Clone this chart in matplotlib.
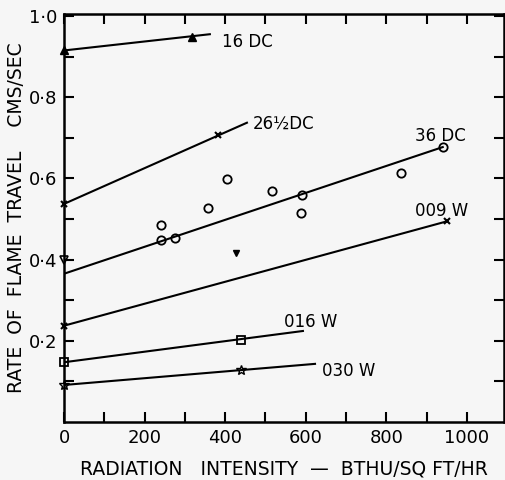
import matplotlib
matplotlib.use("Agg")
import matplotlib.pyplot as plt

# readings
x16 = [0, 318]
y16 = [0.915, 0.948]
line16 = [[0, 362], [0.915, 0.955]]

x26 = [0, 382]
y26 = [0.537, 0.706]
line26 = [[0, 454], [0.537, 0.737]]

x36 = [241, 241, 275, 357, 404, 516, 590, 587, 836, 940]
y36 = [0.486, 0.447, 0.454, 0.526, 0.598, 0.570, 0.560, 0.514, 0.612, 0.677]
line36 = [[0, 940], [0.365, 0.677]]

x_odd = [427]
y_odd = [0.415]
x_odd0 = [0]
y_odd0 = [0.40]

x009 = [0, 950]
y009 = [0.237, 0.494]

x016 = [0, 440]
y016 = [0.147, 0.202]
line016 = [[0, 593], [0.147, 0.224]]

x030 = [0, 440]
y030 = [0.091, 0.128]
line030 = [[0, 623], [0.091, 0.143]]

labels = ["16 DC", "26½DC", "36 DC", "009 W", "016 W", "030 W"]
label_x = [392, 468, 870, 870, 545, 640]
label_y = [0.935, 0.735, 0.705, 0.52, 0.245, 0.125]

xticks = [0, 200, 400, 600, 800, 1000]
yticks = [0.2, 0.4, 0.6, 0.8, 1.0]
ytick_labels = ["0·2", "0·4", "0·6", "0·8", "1·0"]

bg = "#f6f6f6"
fig = plt.figure(figsize=(5.06, 4.8), dpi=100, facecolor=bg)
ax = fig.add_axes([0.1265, 0.121, 0.8695, 0.85], facecolor=bg)

ax.plot(line16[0], line16[1], color="black", lw=1.5)
ax.plot(x16, y16, "^", color="black", ms=6, clip_on=False)
ax.plot(line26[0], line26[1], color="black", lw=1.5)
ax.plot(x26, y26, "x", color="black", ms=4, mew=1.5, clip_on=False)
ax.plot(line36[0], line36[1], color="black", lw=1.5)
ax.plot(x36, y36, "o", mfc="none", mec="black", ms=6, mew=1.3)
ax.plot(x_odd, y_odd, "v", color="black", ms=5)
ax.plot(x_odd0, y_odd0, "v", mfc="none", mec="black", ms=6, mew=1.2, clip_on=False)
ax.plot(x009, y009, color="black", lw=1.5)
ax.plot(x009, y009, "x", color="black", ms=4, mew=1.5, clip_on=False)
ax.plot(line016[0], line016[1], color="black", lw=1.5)
ax.plot(x016, y016, "s", mfc="none", mec="black", ms=6, mew=1.3, clip_on=False)
ax.plot(line030[0], line030[1], color="black", lw=1.5)
ax.plot(x030, y030, "*", mfc="none", mec="black", ms=7, mew=1.0, clip_on=False)

for lab, lx, ly in zip(labels, label_x, label_y):
    ax.text(lx, ly, lab, fontsize=12, va="center", ha="left")

ax.set_xlim(0, 1092)
ax.set_ylim(0, 1.005)
ax.set_xticks(xticks)
ax.set_xticks(range(0, 1001, 100), minor=True)
ax.set_yticks(yticks)
ax.set_yticklabels(ytick_labels)
ax.set_yticks([i / 10 for i in range(1, 11)], minor=True)
ax.tick_params(which="both", direction="in", top=True, right=True,
               width=1.5, labelsize=13, pad=5)
ax.tick_params(which="major", length=7)
ax.tick_params(which="minor", length=7)
ax.tick_params(axis="y", labelright=False)
for s in ax.spines.values():
    s.set_linewidth(1.8)

ax.set_xlabel("RADIATION   INTENSITY  —  BTHU/SQ FT/HR", fontsize=13.5, labelpad=9)
ax.set_ylabel("RATE  OF  FLAME  TRAVEL    CMS/SEC", fontsize=13.5, labelpad=2)

fig.savefig("out.png", dpi=100, facecolor=bg)
